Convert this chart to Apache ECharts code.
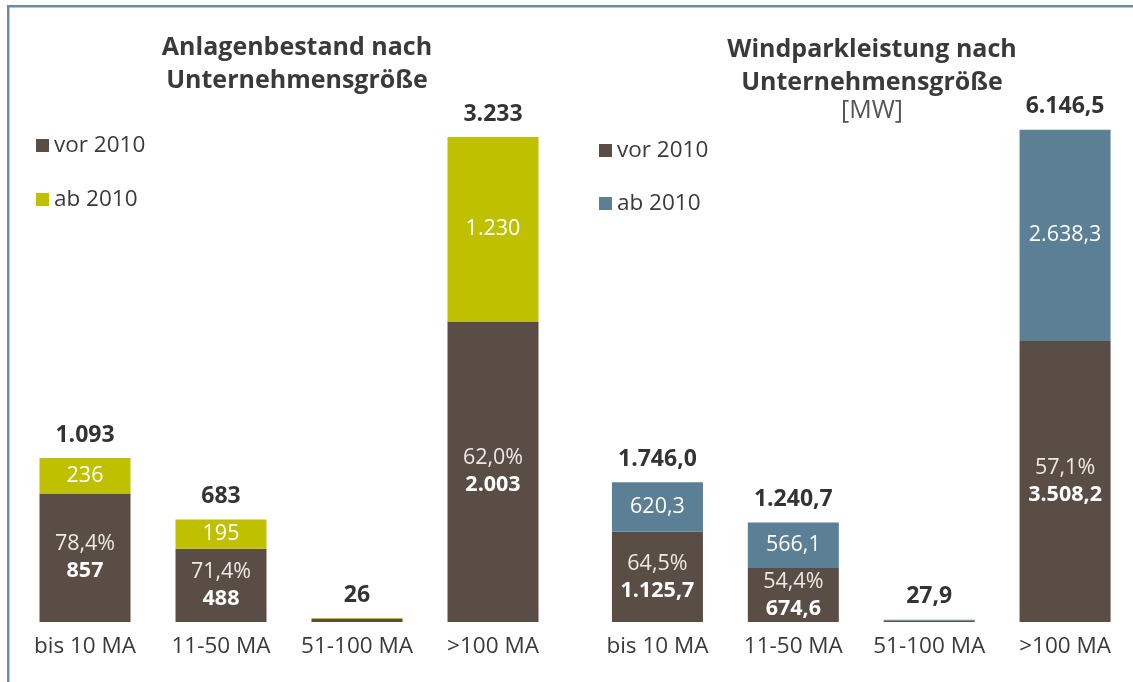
<!DOCTYPE html>
<html>
<head>
<meta charset="utf-8">
<script src="https://cdn.jsdelivr.net/npm/echarts@6/dist/echarts.min.js"></script>
<style>
  html, body { margin: 0; padding: 0; background: #fff; }
  #chart { width: 1133px; height: 682px; }
</style>
</head>
<body>
<div id="chart"></div>
<script>
// Kategorien
var cats = ['bis 10 MA', '11-50 MA', '51-100 MA', '>100 MA'];

// Anlagenbestand (Anzahl)
var anlVor = [857, 488, 20, 2003];
var anlAb = [236, 195, 6, 1230];
var anlTotal = [1093, 683, 26, 3233];
var anlPct = ['78,4%', '71,4%', '', '62,0%'];

// Windparkleistung [MW]
var mwVor = [1125.7, 674.6, 16.0, 3508.2];
var mwAb = [620.3, 566.1, 11.9, 2638.3];
var mwTotal = [1746.0, 1240.7, 27.9, 6146.5];
var mwPct = ['64,5%', '54,4%', '', '57,1%'];

var cVor = '#5a4d45';
var cAbL = '#bfc100';
var cAbR = '#5b7f95';
var txt = '#3a3a3a';
var FONT = '"Open Sans", "Noto Sans", sans-serif';

// deutsche Zahlenformatierung
function fmt(v, dec) {
  var s = v.toFixed(dec).split('.');
  s[0] = s[0].replace(/\B(?=(\d{3})+(?!\d))/g, '.');
  return s.length > 1 ? s[0] + ',' + s[1] : s[0];
}

function vorLabel(pct, dec) {
  return {
    show: true, position: 'inside', fontFamily: FONT,
    formatter: function (p) {
      if (!pct[p.dataIndex]) return '';
      return '{p|' + pct[p.dataIndex] + '}\n{v|' + fmt(p.value, dec) + '}';
    },
    rich: {
      p: { color: '#ece9e6', fontSize: 21.5, lineHeight: 27, fontFamily: FONT },
      v: { color: '#fff', fontSize: 21.5, fontWeight: 'bold', lineHeight: 27, fontFamily: FONT }
    }
  };
}
function abLabel(pct, dec) {
  return {
    show: true, position: 'inside', color: '#fff', fontSize: 21.5, fontFamily: FONT,
    formatter: function (p) { return pct[p.dataIndex] ? fmt(p.value, dec) : ''; }
  };
}
function totalLabel(dec) {
  return {
    show: true, position: 'top', distance: 11, color: '#333', fontSize: 23,
    fontWeight: 'bold', fontFamily: FONT,
    formatter: function (p) { return fmt(p.value, dec); }
  };
}

var chart = echarts.init(document.getElementById('chart'));
var xAx = {
  type: 'category', data: cats,
  axisLine: { show: false }, axisTick: { show: false },
  axisLabel: { interval: 0, hideOverlap: false, color: txt, fontSize: 22.5, margin: 13, fontFamily: FONT }
};

chart.setOption({
  animation: false,
  grid: [
    { left: 17, width: 544, top: 100, bottom: 60 },
    { left: 589.5, width: 544, top: 100, bottom: 60 }
  ],
  xAxis: [
    Object.assign({ gridIndex: 0 }, xAx),
    Object.assign({ gridIndex: 1 }, xAx)
  ],
  yAxis: [
    { gridIndex: 0, type: 'value', min: 0, max: 3480, show: false },
    { gridIndex: 1, type: 'value', min: 0, max: 6517, show: false }
  ],
  legend: [
    {
      left: 31, top: 129, orient: 'vertical', itemGap: 31,
      itemWidth: 13, itemHeight: 13, icon: 'rect', selectedMode: false,
      data: ['vor 2010', 'ab 2010'],
      formatter: function (n) { return n.split('|')[0]; },
      textStyle: { color: txt, fontSize: 22.5, lineHeight: 22, fontFamily: FONT }
    },
    {
      left: 594, top: 134, orient: 'vertical', itemGap: 30,
      itemWidth: 13, itemHeight: 13, icon: 'rect', selectedMode: false,
      data: ['vor 2010|MW', 'ab 2010|MW'],
      formatter: function (n) { return n.split('|')[0]; },
      textStyle: { color: txt, fontSize: 22.5, lineHeight: 22, fontFamily: FONT }
    }
  ],
  graphic: [
    { type: 'rect', shape: { x: 7, y: 5, width: 1126, height: 2.5 }, style: { fill: '#6c8ca5' } },
    { type: 'rect', shape: { x: 7, y: 5, width: 2.5, height: 677 }, style: { fill: '#6c8ca5' } },
    { type: 'text', x: 297, y: 31, style: { text: 'Anlagenbestand nach\nUnternehmensgröße', textAlign: 'center', fill: txt, font: 'bold 25px ' + FONT, lineHeight: 33 } },
    { type: 'text', x: 872, y: 33, style: { text: 'Windparkleistung nach\nUnternehmensgröße', textAlign: 'center', fill: txt, font: 'bold 25px ' + FONT, lineHeight: 33 } },
    { type: 'text', x: 872, y: 98, style: { text: '[MW]', textAlign: 'center', fill: '#555', font: '25px ' + FONT } }
  ],
  series: [
    { name: 'vor 2010', type: 'bar', stack: 'l', xAxisIndex: 0, yAxisIndex: 0, barWidth: 91,
      data: anlVor, itemStyle: { color: cVor }, label: vorLabel(anlPct, 0) },
    { name: 'ab 2010', type: 'bar', stack: 'l', xAxisIndex: 0, yAxisIndex: 0, barWidth: 91,
      data: anlAb, itemStyle: { color: cAbL }, label: abLabel(anlPct, 0) },
    { name: 'sumL', type: 'scatter', xAxisIndex: 0, yAxisIndex: 0, symbolSize: 1,
      itemStyle: { color: 'rgba(0,0,0,0)', opacity: 1 }, data: anlTotal, label: totalLabel(0) },
    { name: 'vor 2010|MW', type: 'bar', stack: 'r', xAxisIndex: 1, yAxisIndex: 1, barWidth: 91,
      data: mwVor, itemStyle: { color: cVor }, label: vorLabel(mwPct, 1) },
    { name: 'ab 2010|MW', type: 'bar', stack: 'r', xAxisIndex: 1, yAxisIndex: 1, barWidth: 91,
      data: mwAb, itemStyle: { color: cAbR }, label: abLabel(mwPct, 1) },
    { name: 'sumR', type: 'scatter', xAxisIndex: 1, yAxisIndex: 1, symbolSize: 1,
      itemStyle: { color: 'rgba(0,0,0,0)', opacity: 1 }, data: mwTotal, label: totalLabel(1) }
  ]
});
</script>
</body>
</html>
